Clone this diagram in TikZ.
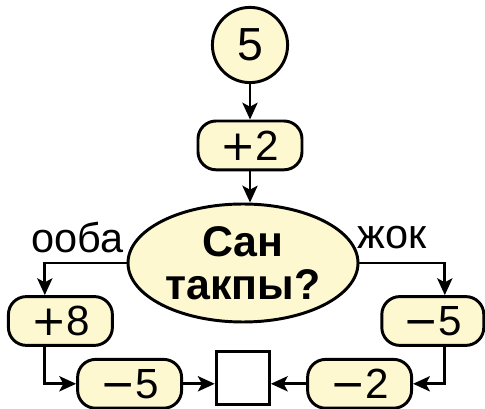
\documentclass[tikz,border=0pt]{standalone}
\usepackage{fontspec}
\setmainfont{Liberation Sans}
\newfontfamily\signfont{DejaVu Sans}
\usetikzlibrary{arrows.meta,shapes.geometric}
\definecolor{boxfill}{RGB}{253,248,208}
\newcommand{\sgn}[1]{{\signfont #1}}
\begin{document}
\begin{tikzpicture}[
        num/.style={draw, circle, fill=boxfill, line width=2.1pt, minimum size=1.88cm, inner sep=0pt, font=\fontsize{33}{38}\selectfont},
        op/.style={draw, rounded corners=0.45cm, fill=boxfill, line width=2.1pt, minimum width=2.6cm, minimum height=1.22cm, inner sep=0pt, font=\fontsize{30}{35}\selectfont},
        ask/.style={draw, ellipse, fill=boxfill, line width=2.1pt, minimum width=5.75cm, minimum height=2.95cm, inner sep=0pt, align=center, font=\bfseries\fontsize{30.5}{30.6}\selectfont},
        res/.style={draw, fill=white, line width=2.1pt, minimum size=1.33cm, inner sep=0pt},
        lbl/.style={font=\fontsize{29.5}{34}\selectfont},
        ar/.style={-{Stealth[length=0.42cm, width=0.38cm, inset=0.1cm]}, line width=1.9pt}
    ]
    \useasboundingbox (0,0) rectangle (12.125,10.225);
    \node (start) [num] at (6.25,9.1) {5};
    \node (add2) [op] at (6.25,6.59) {\sgn{+}2};
    \node (test) [ask] at (6.075,3.65) {Сан\\такпы?};
    \node (plus8) [op] at (1.51,2.2) {\sgn{+}8};
    \node (minA) [op] at (3.24,0.63) {\sgn{−}5};
    \node (minB) [op, minimum width=2.55cm] at (10.82,2.2) {\sgn{−}5};
    \node (min2) [op] at (8.99,0.63) {\sgn{−}2};
    \node (sq) [res] at (6.07,0.78) {};
    \node (yes) [lbl] at (1.93,4.28) {ооба};
    \node (no) [lbl] at (9.8,4.28) {жок};
    % arrows
    \draw[ar] (start) -- (add2);
    \draw[ar] (add2.south) -- (add2.south |- test.north);
    \draw[ar] (test.west) -| ([xshift=-0.39cm]plus8.north);
    \draw[ar] ([xshift=-0.39cm]plus8.south) |- (minA.west);
    \draw[ar] (minA.east) -- (minA.east -| sq.west);
    \draw[ar] (test.east) -| ([xshift=0.3cm]minB.north);
    \draw[ar] ([xshift=0.3cm]minB.south) |- (min2.east);
    \draw[ar] (min2.west) -- (min2.west -| sq.east);
\end{tikzpicture}
\end{document}
